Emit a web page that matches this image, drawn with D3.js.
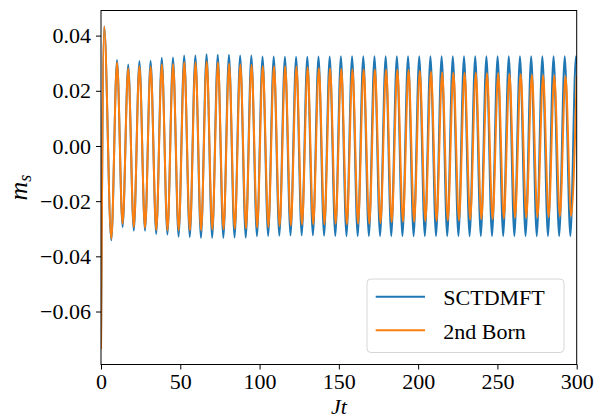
<!DOCTYPE html>
<html><head><meta charset="utf-8">
<script src="https://cdn.jsdelivr.net/npm/d3@7"></script>
<style>
body{margin:0;background:#fff}
svg{display:block}
text{font-family:"Liberation Serif","Times New Roman",serif;fill:#000}
</style>
</head><body>
<svg id="chart" width="602" height="419"></svg>
<script>
// ---- data ----
const xTicks = [0, 50, 100, 150, 200, 250, 300];
const xTickLabels = ["0", "50", "100", "150", "200", "250", "300"];
const yTicks = [0.04, 0.02, 0.00, -0.02, -0.04, -0.06];
const yTickLabels = ["0.04", "0.02", "0.00", "\u22120.02", "\u22120.04", "\u22120.06"];
const seriesNames = ["SCTDMFT", "2nd Born"];
const seriesColors = ["#1f77b4", "#ff7f0e"];

// SCTDMFT: start, first maximum, then alternating troughs / peaks (Jt, m_s)
const sctTime = [0, 2.0, 6.5, 10.10, 13.63, 17.16, 20.69, 24.22, 27.75, 31.28, 34.81, 38.34, 41.87, 45.40,
  48.92, 52.45, 55.98, 59.51, 63.04, 66.57, 70.10, 73.63, 77.16, 80.69, 84.22, 87.75, 91.28, 94.81,
  98.34, 101.87, 105.40, 108.93, 112.46, 115.99, 119.51, 123.04, 126.57, 130.10, 133.63, 137.16,
  140.69, 144.22, 147.75, 151.28, 154.81, 158.34, 161.87, 165.40, 168.93, 172.46, 175.99, 179.52,
  183.05, 186.58, 190.10, 193.63, 197.16, 200.69, 204.22, 207.75, 211.28, 214.81, 218.34, 221.87,
  225.40, 228.93, 232.46, 235.99, 239.52, 243.05, 246.58, 250.11, 253.64, 257.17, 260.69, 264.22,
  267.75, 271.28, 274.81, 278.34, 281.87, 285.40, 288.93, 292.46, 295.99, 299.52, 300];
const sctValue = [-0.0736, 0.0433, -0.0342, 0.0312, -0.0294, 0.0295, -0.0307, 0.0308, -0.0307, 0.0309,
  -0.0319, 0.0320, -0.0321, 0.0321, -0.0329, 0.0328, -0.0330, 0.0328, -0.0333, 0.0332, -0.0333, 0.0331,
  -0.0333, 0.0331, -0.0332, 0.0328, -0.0332, 0.0328, -0.0327, 0.0324, -0.0326, 0.0324, -0.0325, 0.0323,
  -0.0324, 0.0323, -0.0324, 0.0323, -0.0324, 0.0324, -0.0325, 0.0324, -0.0326, 0.0325, -0.0327, 0.0325,
  -0.0327, 0.0325, -0.0327, 0.0325, -0.0327, 0.0325, -0.0327, 0.0325, -0.0327, 0.0325, -0.0327, 0.0325,
  -0.0327, 0.0325, -0.0327, 0.0325, -0.0327, 0.0325, -0.0327, 0.0325, -0.0327, 0.0325, -0.0327, 0.0325,
  -0.0327, 0.0325, -0.0327, 0.0325, -0.0327, 0.0325, -0.0327, 0.0325, -0.0327, 0.0325, -0.0327, 0.0325,
  -0.0327, 0.0325, -0.0327, 0.0325, 0.0296];

// 2nd Born: start, first maximum, then alternating troughs / peaks (Jt, m_s)
const bornTime = [0, 2.0, 6.5, 10.10, 13.63, 17.17, 20.70, 24.24, 27.77, 31.31, 34.84, 38.38, 41.92, 45.46,
  48.99, 52.53, 56.06, 59.60, 63.13, 66.67, 70.20, 73.74, 77.27, 80.81, 84.34, 87.88, 91.41, 94.95,
  98.48, 102.02, 105.55, 109.09, 112.63, 116.17, 119.70, 123.24, 126.77, 130.31, 133.84, 137.38,
  140.91, 144.45, 147.98, 151.52, 155.05, 158.59, 162.12, 165.66, 169.19, 172.73, 176.26, 179.80,
  183.34, 186.88, 190.41, 193.95, 197.48, 201.02, 204.55, 208.09, 211.62, 215.16, 218.69, 222.23,
  225.76, 229.30, 232.83, 236.37, 239.90, 243.44, 246.97, 250.51, 254.05, 257.59, 261.12, 264.66,
  268.19, 271.73, 275.26, 278.80, 282.33, 285.87, 289.40, 292.94, 296.47, 300.0];
const bornValue = [-0.0736, 0.0433, -0.0336, 0.0303, -0.0282, 0.0282, -0.0294, 0.0290, -0.0297, 0.0288,
  -0.0305, 0.0296, -0.0306, 0.0297, -0.0306, 0.0303, -0.0306, 0.0303, -0.0306, 0.0306, -0.0303, 0.0303,
  -0.0302, 0.0299, -0.0300, 0.0296, -0.0299, 0.0294, -0.0296, 0.0290, -0.0294, 0.0289, -0.0291, 0.0289,
  -0.0288, 0.0288, -0.0285, 0.0285, -0.0284, 0.0283, -0.0284, 0.0282, -0.0282, 0.0280, -0.0284, 0.0278,
  -0.0282, 0.0277, -0.0282, 0.0277, -0.0279, 0.0277, -0.0276, 0.0277, -0.0275, 0.0276, -0.0275, 0.0273,
  -0.0273, 0.0270, -0.0272, 0.0267, -0.0270, 0.0265, -0.0270, 0.0265, -0.0267, 0.0265, -0.0265, 0.0264,
  -0.0265, 0.0264, -0.0263, 0.0261, -0.0260, 0.0261, -0.0260, 0.0258, -0.0258, 0.0256, -0.0258, 0.0255,
  -0.0255, 0.0254, -0.0254, 0.0254];

// ---- layout ----
const svg = d3.select("#chart");
const X0 = 101, X1 = 576.7, Y0 = 10.5, Y1 = 364.5;
const x = d3.scaleLinear().domain([0, 300]).range([X0, X1]);
const y = d3.scaleLinear().domain([-0.0792, 0.0491]).range([Y1, Y0]);
const FS = 22;

svg.append("defs").append("clipPath").attr("id", "clip")
  .append("rect").attr("x", X0).attr("y", Y0).attr("width", X1 - X0).attr("height", Y1 - Y0);

const line = d3.line().x(d => x(d[0])).y(d => y(d[1])).curve(d3.curveMonotoneX);
const series = [
  d3.zip(sctTime, sctValue),
  d3.zip(bornTime, bornValue)
];
const plot = svg.append("g").attr("clip-path", "url(#clip)");
series.forEach((s, i) => {
  plot.append("path").datum(s).attr("d", line)
    .attr("fill", "none").attr("stroke", seriesColors[i])
    .attr("stroke-width", 2).attr("stroke-linejoin", "round");
});

// axes
const xAxis = d3.axisBottom(x).tickValues(xTicks).tickFormat((d, i) => xTickLabels[i])
  .tickSizeOuter(0).tickSize(5).tickPadding(4);
const gx = svg.append("g").attr("transform", `translate(0,${Y1})`).call(xAxis);
const yAxis = d3.axisLeft(y).tickValues(yTicks).tickFormat((d, i) => yTickLabels[i])
  .tickSizeOuter(0).tickSize(5).tickPadding(5);
const gy = svg.append("g").attr("transform", `translate(${X0},0)`).call(yAxis);
[gx, gy].forEach(g => {
  g.select(".domain").remove();
  g.selectAll(".tick line").attr("stroke", "#000").attr("stroke-width", 1);
  g.selectAll(".tick text").attr("font-size", FS).attr("font-family", "Liberation Serif, serif").attr("fill", "#000");
});

// frame
svg.append("rect").attr("x", X0).attr("y", Y0).attr("width", X1 - X0).attr("height", Y1 - Y0)
  .attr("fill", "none").attr("stroke", "#000").attr("stroke-width", 1);

// axis labels
svg.append("text").attr("x", (X0 + X1) / 2).attr("y", 414).attr("text-anchor", "middle")
  .attr("font-size", 22).attr("font-style", "italic").text("Jt");
const yl = svg.append("text").attr("transform", `translate(27,${(Y0 + Y1) / 2}) rotate(-90)`)
  .attr("text-anchor", "middle").attr("font-size", 26).attr("font-style", "italic");
yl.append("tspan").text("m");
yl.append("tspan").attr("dy", 4).attr("font-size", 18).text("s");

// legend
const lg = svg.append("g");
lg.append("rect").attr("x", 367).attr("y", 279).attr("width", 197).attr("height", 73.5)
  .attr("rx", 4).attr("fill", "#fff").attr("fill-opacity", 0.8)
  .attr("stroke", "#d6d6d6").attr("stroke-width", 1);
const lgY = [296.7, 330.3];
seriesNames.forEach((n, i) => {
  lg.append("line").attr("x1", 375.7).attr("x2", 425).attr("y1", lgY[i]).attr("y2", lgY[i])
    .attr("stroke", seriesColors[i]).attr("stroke-width", 2);
  lg.append("text").attr("x", 443.3).attr("y", lgY[i] + 8.5).attr("font-size", FS).text(n);
});
</script>
</body></html>
